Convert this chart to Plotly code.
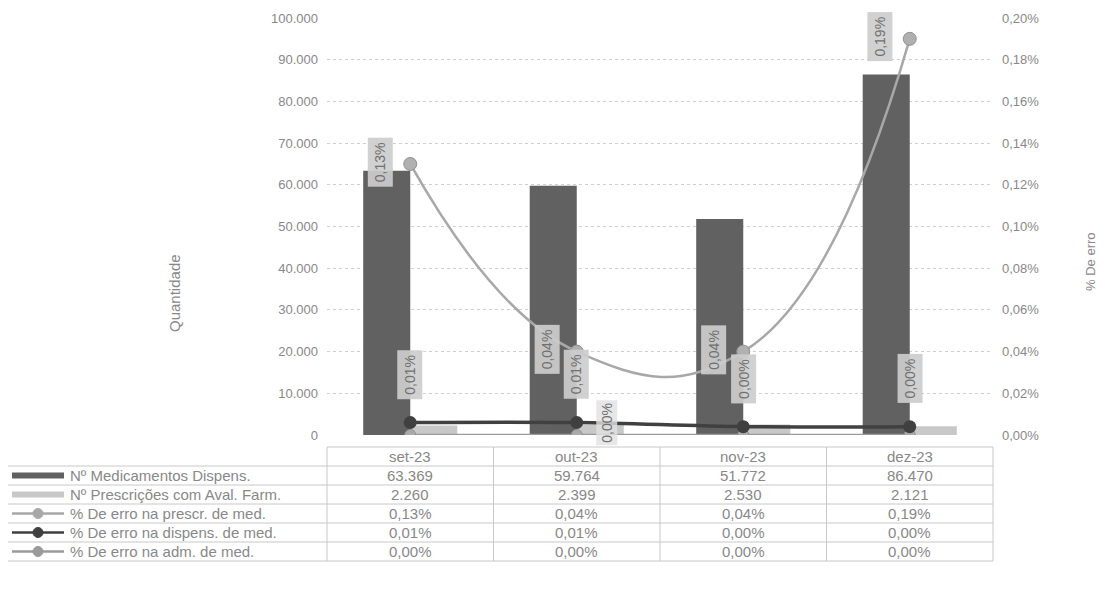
import plotly.graph_objects as go

categories = ["set-23", "out-23", "nov-23", "dez-23"]
medicamentos = [63369, 59764, 51772, 86470]
prescricoes = [2260, 2399, 2530, 2121]
erro_prescr = [0.0013, 0.0004, 0.0004, 0.0019]
erro_dispens = [0.00006, 0.00006, 0.00004, 0.00004]
erro_adm = [0.0, 0.0, 0.0, 0.0]

names = ["Nº Medicamentos Dispens.", "Nº Prescrições com Aval. Farm.",
         "% De erro na prescr. de med.", "% De erro na dispens. de med.",
         "% De erro na adm. de med."]

OFF = 8  # page body margin
W, H = 1105 - OFF, 611 - OFF
L, R, T, B = 327, 993, 18, 435  # plot area in page pixels
FONT = "Liberation Sans"
TXT = "#888888"

C_DARK = "#616161"
C_LIGHT = "#c8c8c8"
C_PRESCR = "#a8a8a8"
C_DISP = "#404040"
C_ADM = "#9a9a9a"


def px(x):
    return (x - L) / (R - L)


def py(y):
    return (B - y) / (B - T)


def fmt_int(v):
    return f"{v:,}".replace(",", ".")


def fmt_pct(v):
    return f"{v*100:.2f}%".replace(".", ",")


fig = go.Figure()
fig.add_trace(go.Bar(x=categories, y=medicamentos, name=names[0],
                     marker=dict(color=C_DARK, line=dict(width=0))))
fig.add_trace(go.Bar(x=categories, y=prescricoes, name=names[1],
                     marker=dict(color=C_LIGHT, line=dict(width=0))))
fig.add_trace(go.Scatter(x=categories, y=erro_prescr, name=names[2], yaxis="y2",
                         mode="lines+markers", line=dict(color=C_PRESCR, width=2.5, shape="spline", smoothing=1.3),
                         marker=dict(size=13, color="#b0b0b0", line=dict(color="#909090", width=1))))
fig.add_trace(go.Scatter(x=categories, y=erro_adm, name=names[4], yaxis="y2",
                         mode="lines+markers", line=dict(color=C_ADM, width=2.5, shape="spline"),
                         marker=dict(size=11, color="#aaaaaa", line=dict(color="#909090", width=1))))
fig.add_trace(go.Scatter(x=categories, y=erro_dispens, name=names[3], yaxis="y2",
                         mode="lines+markers", line=dict(color=C_DISP, width=3.5, shape="spline"),
                         marker=dict(size=13, color=C_DISP)))

annotations = []
shapes = []


def ann(x, y, text, size=15, **kw):
    d = dict(x=x, y=y, xref="paper", yref="paper", text=text, showarrow=False,
             xanchor="center", yanchor="middle", font=dict(family=FONT, size=size, color=TXT))
    d.update(kw)
    annotations.append(d)


lab_font = dict(family=FONT, size=14, color="#707070")
for i, c in enumerate(categories):
    annotations.append(dict(x=c, y=erro_prescr[i], xref="x", yref="y2", text=fmt_pct(erro_prescr[i]),
                            textangle=-90, showarrow=False, xanchor="center", yanchor="middle",
                            xshift=-30, yshift=2, borderpad=4,
                            bgcolor="rgba(205,205,205,0.92)", font=lab_font))
    annotations.append(dict(x=c, y=erro_dispens[i], xref="x", yref="y2", text=fmt_pct(erro_dispens[i]),
                            textangle=-90, showarrow=False, xanchor="center", yanchor="middle",
                            xshift=0, yshift=48, borderpad=4,
                            bgcolor="rgba(205,205,205,0.92)", font=lab_font))
annotations.append(dict(x=categories[1], y=erro_adm[1], xref="x", yref="y2", text=fmt_pct(erro_adm[1]),
                        textangle=-90, showarrow=False, xanchor="center", yanchor="middle",
                        xshift=30, yshift=12, borderpad=2,
                        bgcolor="rgba(225,225,225,0.8)", font=lab_font))

ann(px(174), py(293), "Quantidade", size=15, textangle=-90)
ann(px(1090), py(262), "% De erro", size=13, textangle=-90)

n = len(categories)
colw = (R - L) / n
top_h = 447
row_tops = [466, 485, 504, 523, 542, 561]
grid = "#c8c8c8"
shapes.append(dict(type="line", xref="paper", yref="paper", x0=px(L), x1=px(R), y0=py(top_h), y1=py(top_h),
                   line=dict(color=grid, width=1)))
for k in range(n + 1):
    xx = L + k * colw
    shapes.append(dict(type="line", xref="paper", yref="paper", x0=px(xx), x1=px(xx),
                       y0=py(top_h), y1=py(row_tops[-1]), line=dict(color=grid, width=1)))
shapes.append(dict(type="line", xref="paper", yref="paper", x0=px(5), x1=px(5),
                   y0=py(row_tops[0]), y1=py(row_tops[-1]), line=dict(color=grid, width=1)))
for yy in row_tops:
    shapes.append(dict(type="line", xref="paper", yref="paper", x0=px(5), x1=px(R), y0=py(yy), y1=py(yy),
                       line=dict(color=grid, width=1)))

for k, c in enumerate(categories):
    ann(px(L + (k + 0.5) * colw), py((top_h + row_tops[0]) / 2), c)

rows = [[fmt_int(v) for v in medicamentos], [fmt_int(v) for v in prescricoes],
        [fmt_pct(v) for v in erro_prescr], [fmt_pct(v) for v in erro_dispens], [fmt_pct(v) for v in erro_adm]]
key_styles = [("bar", C_DARK), ("bar", C_LIGHT), ("line", C_PRESCR), ("line", C_DISP), ("line", C_ADM)]
for r in range(5):
    yc = (row_tops[r] + row_tops[r + 1]) / 2
    ann(px(68), py(yc), names[r], xanchor="left")
    for k in range(n):
        ann(px(L + (k + 0.5) * colw), py(yc), rows[r][k])
    kind, col = key_styles[r]
    if kind == "bar":
        shapes.append(dict(type="rect", xref="paper", yref="paper", x0=px(12), x1=px(64),
                           y0=py(yc - 3), y1=py(yc + 3), fillcolor=col, line=dict(width=0)))
    else:
        shapes.append(dict(type="line", xref="paper", yref="paper", x0=px(12), x1=px(64),
                           y0=py(yc), y1=py(yc), line=dict(color=col, width=2.5)))
        shapes.append(dict(type="circle", xref="paper", yref="paper", x0=px(33), x1=px(43),
                           y0=py(yc - 5), y1=py(yc + 5), fillcolor=col, line=dict(color=col, width=1)))

fig.update_layout(
    width=W, height=H,
    margin=dict(l=L - OFF, r=W - (R - OFF), t=T - OFF, b=H - (B - OFF), autoexpand=False),
    paper_bgcolor="white", plot_bgcolor="white",
    separators=",.",
    barmode="group", bargap=0.435, bargroupgap=0,
    showlegend=False,
    font=dict(family=FONT, size=13, color=TXT),
    xaxis=dict(showticklabels=False, showgrid=False, zeroline=False, showline=False, ticks="",
               automargin=False),
    yaxis=dict(range=[0, 100000], dtick=10000, tickformat=",d", showgrid=True, gridcolor="#cfcfcf",
               griddash="dot", zeroline=False, showline=False, ticks="", ticklabelstandoff=8,
               automargin=False, tickfont=dict(family=FONT, size=13, color=TXT)),
    yaxis2=dict(range=[0, 0.002], dtick=0.0002, tickformat=".2%", overlaying="y", side="right",
                showgrid=False, zeroline=False, showline=False, ticks="", ticklabelstandoff=8,
                automargin=False, tickfont=dict(family=FONT, size=13, color=TXT)),
    annotations=annotations,
    shapes=shapes,
)

fig.write_html("out.html")
